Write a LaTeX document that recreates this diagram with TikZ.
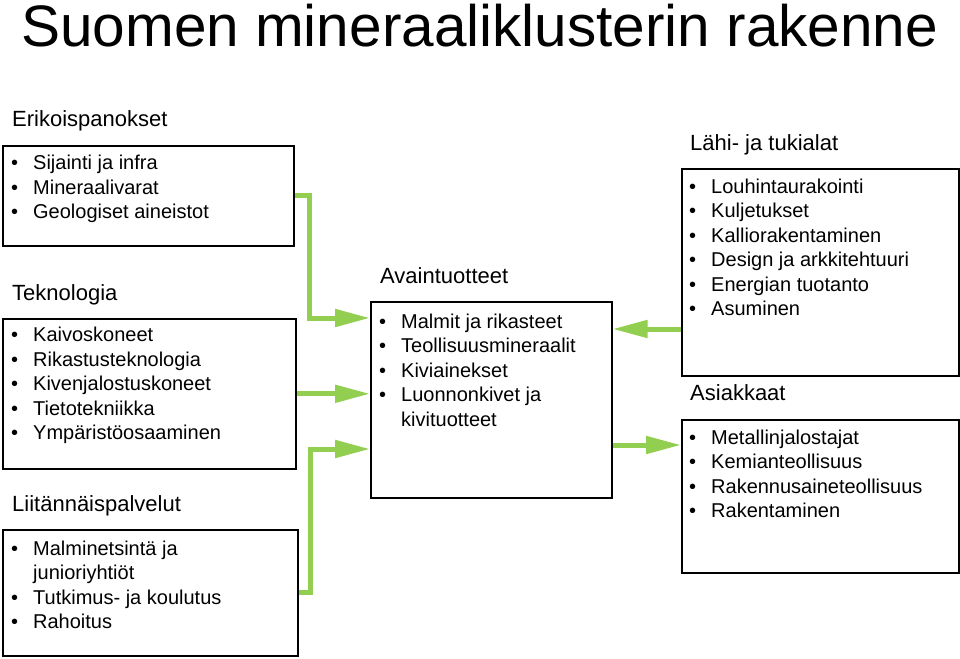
\documentclass[tikz,border=0pt]{standalone}
\usepackage{fontspec}
\setmainfont{Liberation Sans}
\usetikzlibrary{arrows.meta,positioning}
\definecolor{leafgreen}{RGB}{146,206,80}
\newcommand{\bul}{\rule{0pt}{16pt}\makebox[22pt][l]{•}}
\newcommand{\cont}{\rule{0pt}{16pt}\hspace*{22pt}}
\tikzset{
  groupbox/.style={rectangle, draw=black, line width=1.6pt, inner sep=0pt, anchor=north west},
  itemlist/.style={inner sep=0pt, align=left, font=\fontsize{20}{24.5}\selectfont},
  grouphead/.style={inner sep=0pt, font=\fontsize{22}{26}\selectfont},
  flow/.style={draw=leafgreen, line width=5pt, -{Triangle[length=35pt,width=17pt]}}
}

\begin{document}
\begin{tikzpicture}[x=1pt,y=-1pt]
\useasboundingbox (0,0) rectangle (960,658);
\node[anchor=base west, inner sep=0pt, font=\fontsize{58.5}{62}\selectfont] (title) at (21,47) {Suomen mineraaliklusterin rakenne};
% left column
\node[groupbox, minimum width=291pt, minimum height=100pt] (erikois) at (2,145) {};
\node[groupbox, minimum width=293pt, minimum height=150pt] (tekno) at (2,318) {};
\node[groupbox, minimum width=295pt, minimum height=126pt] (liitann) at (2,529) {};
\node[grouphead, above right=18pt and 10pt of erikois.north west, anchor=base west] (erikoishead) {Erikoispanokset};
\node[grouphead, above right=18pt and 10pt of tekno.north west, anchor=base west] (teknohead) {Teknologia};
\node[grouphead, above right=18pt and 10pt of liitann.north west, anchor=base west] (liitannhead) {Liitännäispalvelut};
\node[itemlist, below right=8.5pt and 9pt of erikois.north west] (erikoislist) {\bul Sijainti ja infra\\\bul Mineraalivarat\\\bul Geologiset aineistot};
\node[itemlist, below right=7.5pt and 9pt of tekno.north west] (teknolist) {\bul Kaivoskoneet\\\bul Rikastusteknologia\\\bul Kivenjalostuskoneet\\\bul Tietotekniikka\\\bul Ympäristöosaaminen};
\node[itemlist, below right=10pt and 9pt of liitann.north west] (liitannlist) {\bul Malminetsintä ja\\\cont junioriyhtiöt\\\bul Tutkimus- ja koulutus\\\bul Rahoitus};
% middle
\node[groupbox, minimum width=241pt, minimum height=196pt] (avain) at (370,301) {};
\node[grouphead, above right=18pt and 10pt of avain.north west, anchor=base west] (avainhead) {Avaintuotteet};
\node[itemlist, below right=11pt and 9pt of avain.north west] (avainlist) {\bul Malmit ja rikasteet\\\bul Teollisuusmineraalit\\\bul Kiviainekset\\\bul Luonnonkivet ja\\\cont kivituotteet};
% right column
\node[groupbox, minimum width=277pt, minimum height=207pt] (lahi) at (681,168) {};
\node[groupbox, minimum width=277pt, minimum height=153pt] (asiak) at (681,419) {};
\node[grouphead, above right=18pt and 9pt of lahi.north west, anchor=base west] (lahihead) {Lähi- ja tukialat};
\node[grouphead, above right=19pt and 9pt of asiak.north west, anchor=base west] (asiakhead) {Asiakkaat};
\node[itemlist, below right=9pt and 8pt of lahi.north west] (lahilist) {\bul Louhintaurakointi\\\bul Kuljetukset\\\bul Kalliorakentaminen\\\bul Design ja arkkitehtuuri\\\bul Energian tuotanto\\\bul Asuminen};
\node[itemlist, below right=9pt and 8pt of asiak.north west] (asiaklist) {\bul Metallinjalostajat\\\bul Kemianteollisuus\\\bul Rakennusaineteollisuus\\\bul Rakentaminen};
% connectors
\draw[flow] (erikois.east) -- ++(15,0) |- ([yshift=-17pt]avain.north west);
\draw[flow] (tekno.east) -- (tekno.east -| avain.west);
\draw[flow] (liitann.east) -- ++(12,0) |- ([yshift=-148pt]avain.north west);
\draw[flow] ([yshift=-161pt]lahi.north west) -- ([yshift=-161pt]lahi.north west -| avain.east);
\draw[flow] ([yshift=-26pt]asiak.north west -| avain.east) -- ([yshift=-26pt]asiak.north west);
\end{tikzpicture}
\end{document}
